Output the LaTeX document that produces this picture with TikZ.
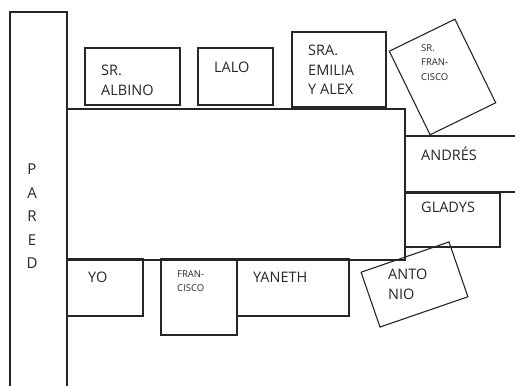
\documentclass[tikz,border=0pt]{standalone}
\usepackage{fontspec}
\setmainfont{Open Sans}
\usepackage{tikz}

\begin{document}
\begin{tikzpicture}[x=1pt,y=-1pt,
    seat/.style={rectangle,draw=black!85,line width=1.1pt,inner sep=0pt,outer sep=0pt},
    guest/.style={anchor=north west,inner sep=0pt,align=left,font=\fontsize{14.5}{19.5}\selectfont,text=black!85},
    guestsmall/.style={anchor=north west,inner sep=0pt,align=left,font=\fontsize{9.5}{14.5}\selectfont,text=black!85}]
\useasboundingbox (0,0) rectangle (515,386);
% wall and table
\node[seat,minimum width=57,minimum height=380] (pared) at (38.5,202) {};
\node[seat,minimum width=338,minimum height=151] (mesa) at (236,184.5) {};
% seats on top
\node[seat,minimum width=95,minimum height=57] (albino) at (132.5,76.5) {};
\node[seat,minimum width=75,minimum height=57] (lalo) at (235.5,76.5) {};
\node[seat,minimum width=94,minimum height=75] (emilia) at (339,69.5) {};
\node[seat,minimum width=73,minimum height=93,rotate=26] (srfran) at (442.5,77) {};
% seats on the right
\node[seat,minimum width=115,minimum height=56] (andres) at (462.5,164) {};
\node[seat,minimum width=95,minimum height=54] (gladys) at (452.5,220) {};
\node[seat,minimum width=93,minimum height=58,rotate=19] (antonio) at (414.5,284.5) {};
% seats at the bottom
\node[seat,minimum width=76,minimum height=57] (yo) at (105,287.5) {};
\node[seat,minimum width=76,minimum height=76] (fran) at (199,297) {};
\node[seat,minimum width=112,minimum height=57] (yaneth) at (293,287.5) {};
% names
\node[guest,align=center,anchor=north,font=\fontsize{15}{23.5}\selectfont] (tpared) at (32,164) {P\\A\\R\\E\\D};
\node[guest] (talbino) at (101,65) {SR.\\ALBINO};
\node[guest] (tlalo) at (214,62) {LALO};
\node[guest] (temilia) at (308,45) {SRA.\\EMILIA\\Y ALEX};
\node[guestsmall] (tsrfran) at (421,44) {SR.\\FRAN-\\CISCO};
\node[guest,anchor=base west] (tandres) at (421,160) {ANDRÉS};
\node[guest] (tgladys) at (421,202) {GLADYS};
\node[guest] (tantonio) at (388,269) {ANTO\\NIO};
\node[guest] (tyo) at (88,272) {YO};
\node[guestsmall] (tfran) at (177,270) {FRAN-\\CISCO};
\node[guest] (tyaneth) at (253,272) {YANETH};
\end{tikzpicture}
\end{document}
